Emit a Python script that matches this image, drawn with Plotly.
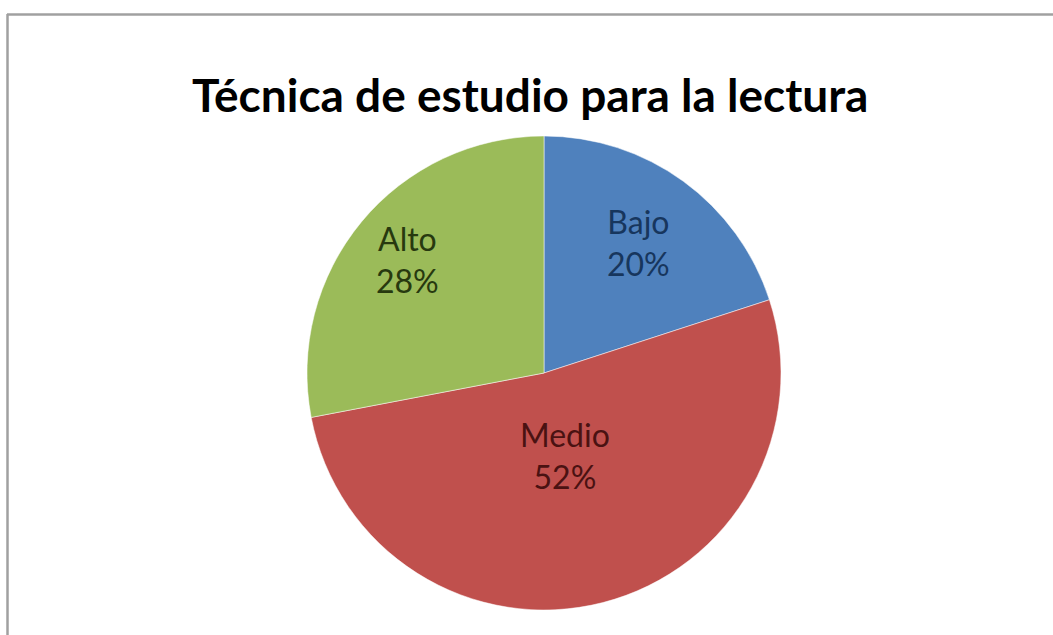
import math
import plotly.graph_objects as go

categories = ["Bajo", "Medio", "Alto"]
values = [20, 52, 28]
colors = ["#4F81BD", "#C0504D", "#9BBB59"]
text_colors = ["#17365D", "#4A1212", "#27390F"]
label_radius = [0.68, 0.36, 0.75]
title_text = "Técnica de estudio para la lectura"

W, H = 1053, 635
cx, cy, R = 544, 373, 237

fig = go.Figure(go.Pie(
    labels=categories,
    values=values,
    sort=False,
    direction="clockwise",
    rotation=0,
    marker=dict(colors=colors, line=dict(color="rgba(255,255,255,0.5)", width=1)),
    textinfo="none",
    domain=dict(x=[(cx - R) / W, (cx + R) / W], y=[1 - (cy + R) / H, 1 - (cy - R) / H]),
    showlegend=False,
    hoverinfo="label+percent",
))

# data labels placed along each slice's bisector
total = sum(values)
annotations = []
cum = 0
for lab, v, tc, rf in zip(categories, values, text_colors, label_radius):
    mid = (cum + v / 2) / total * 2 * math.pi
    cum += v
    px = cx + rf * R * math.sin(mid)
    py = cy - rf * R * math.cos(mid)
    annotations.append(dict(
        text=f"{lab}<br>{round(v / total * 100)}%",
        x=px / W, y=1 - py / H, xref="paper", yref="paper",
        xanchor="center", yanchor="middle", showarrow=False,
        font=dict(family="Lato, Carlito, Calibri, sans-serif", size=32, color=tc),
    ))

annotations.append(dict(
    text="<b>" + title_text + "</b>",
    x=530 / W, y=1 - 94 / H, xref="paper", yref="paper",
    xanchor="center", yanchor="middle", showarrow=False,
    font=dict(family="Lato, Carlito, Calibri, sans-serif", size=46, color="black"),
))

fig.update_layout(
    width=W, height=H,
    margin=dict(l=0, r=0, t=0, b=0),
    paper_bgcolor="white",
    plot_bgcolor="white",
    annotations=annotations,
    shapes=[
        dict(type="line", xref="paper", yref="paper",
             x0=7 / W, x1=1.0, y0=1 - 14.5 / H, y1=1 - 14.5 / H,
             line=dict(color="#A0A0A0", width=2.5)),
        dict(type="line", xref="paper", yref="paper",
             x0=7.5 / W, x1=7.5 / W, y0=0, y1=1 - 14 / H,
             line=dict(color="#A0A0A0", width=2.5)),
    ],
)

fig.write_html("out.html", config={"displayModeBar": False},
               post_script="document.body.style.margin='0';document.body.style.overflow='hidden';")
